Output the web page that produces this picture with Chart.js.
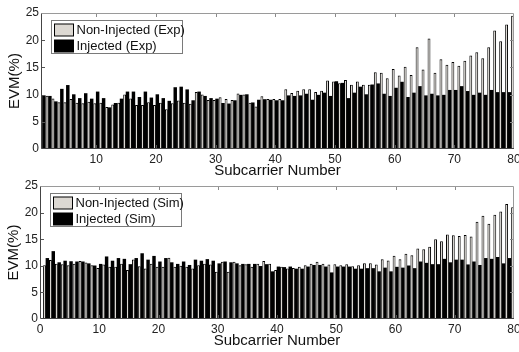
<!DOCTYPE html>
<html><head><meta charset="utf-8">
<script src="https://cdn.jsdelivr.net/npm/chart.js@4.4.0/dist/chart.umd.min.js"></script>
<style>
html,body{margin:0;padding:0;background:#fff;width:519px;height:352px;overflow:hidden}
canvas{position:absolute;left:0}
#c1{top:0}
#c2{top:180px}
</style></head><body>
<canvas id="c1" width="519" height="180"></canvas>
<canvas id="c2" width="519" height="172"></canvas>
<script>
// ---------- DATA ----------
const subcarriers = [1,2,3,4,5,6,7,8,9,10,11,12,13,14,15,16,17,18,19,20,21,22,23,24,25,26,27,28,29,30,31,32,33,34,35,36,37,38,39,40,41,42,43,44,45,46,47,48,49,50,51,52,53,54,55,56,57,58,59,60,61,62,63,64,65,66,67,68,69,70,71,72,73,74,75,76,77,78,79,80];

const nonInjectedExp = [9.9,9.8,9.3,8.6,8.6,9.2,8.5,8.4,8.7,8.4,
  8.5,7.7,8.2,8.5,10.0,9.3,8.1,8.1,8.6,8.1,
  8.5,7.3,8.4,8.9,8.5,8.3,10.5,10.0,9.0,9.0,
  9.5,9.2,9.0,10.2,10.0,8.5,7.8,9.7,9.2,9.2,
  9.2,11.0,10.3,10.7,11.0,11.0,10.5,10.7,12.6,12.4,
  12.1,12.7,11.8,12.4,11.8,11.8,14.1,14.0,13.0,14.7,
  13.5,15.1,13.6,18.7,14.6,20.3,14.0,16.5,15.5,16.0,
  15.3,16.2,17.2,17.8,16.7,18.7,21.8,19.8,22.9,24.5];

const injectedExp = [9.8,9.7,8.7,11.0,11.7,10.0,9.3,10.2,9.2,10.5,
  9.3,7.6,8.4,9.2,10.5,10.5,9.5,10.5,9.4,10.0,
  9.3,8.8,11.3,11.4,10.9,8.9,10.5,9.7,9.3,9.2,
  8.4,8.3,8.9,9.9,10.0,8.5,9.0,9.1,9.0,8.9,
  8.9,9.8,9.7,9.8,10.1,9.0,9.9,10.3,9.7,12.4,
  12.1,9.3,10.3,11.4,10.0,11.8,12.0,10.1,9.7,11.2,
  12.3,9.5,10.3,11.5,9.8,10.1,9.8,9.9,10.8,10.8,
  11.5,10.6,9.9,10.3,9.9,10.8,10.4,10.4,10.4,10.7];

const nonInjectedSim = [10.1,11.1,10.4,10.3,10.1,10.4,10.9,10.6,10.1,9.6,
  10.25,9.8,9.8,10.4,9.2,11.2,9.9,9.5,10.4,9.8,
  9.8,11.5,9.8,10.0,9.8,9.5,10.1,10.4,10.25,8.9,
  10.75,8.9,10.75,10.1,10.3,9.8,10.4,10.9,10.4,9.2,
  9.8,9.5,9.6,9.8,10.1,10.4,10.75,10.4,10.25,10.3,
  10.1,10.3,9.9,10.1,10.5,10.5,10.25,11.25,11.0,11.9,
  11.25,12.25,12.0,13.25,13.1,13.6,15.0,14.6,15.9,15.75,
  15.6,15.8,15.5,18.3,19.4,17.9,19.6,20.2,21.6,21.0];

const injectedSim = [11.4,12.7,10.6,10.9,10.8,10.75,10.75,10.4,10.0,10.3,
  11.7,10.9,11.4,11.25,10.25,11.4,12.3,11.1,11.8,10.75,
  11.4,10.6,10.3,10.75,10.1,11.1,10.9,11.2,10.9,10.4,
  10.75,10.6,10.4,10.3,10.3,10.3,9.9,10.25,8.9,9.8,
  9.7,9.8,9.4,9.4,9.8,10.1,10.1,9.8,8.7,9.8,
  9.8,9.8,9.4,9.4,9.5,9.5,8.9,9.6,8.9,9.75,
  9.6,10.0,9.5,10.75,10.5,10.25,10.25,11.25,10.6,11.1,
  11.1,10.2,10.75,10.1,11.4,11.25,11.6,10.4,11.4,11.25];

const xTicksTop = [10,20,30,40,50,60,70,80];
const xTicksBottom = [0,10,20,30,40,50,60,70,80];
const yTicks = [0,5,10,15,20,25];

// ---------- STYLE ----------
const FONT = "'Liberation Sans', Arial, Helvetica, sans-serif";
const GRAY = 'rgb(220,216,210)';

const framePlugin = {
  id: 'frame',
  afterDatasetsDraw(chart) {
    const {ctx, chartArea: a, scales: {x, y}} = chart;
    ctx.save();
    ctx.lineWidth = 1;
    const line = (x1, y1, x2, y2, c) => {
      ctx.strokeStyle = c; ctx.beginPath(); ctx.moveTo(x1, y1); ctx.lineTo(x2, y2); ctx.stroke();
    };
    x.ticks.forEach(t => {
      const px = Math.round(x.getPixelForValue(t.value)) + 0.5;
      if (px < a.left + 2 || px > a.right - 2) return;
      line(px, a.top, px, a.top + 4, '#8a8a8a');
      line(px, a.bottom, px, a.bottom - 4, '#555');
    });
    y.ticks.forEach(t => {
      const py = Math.round(y.getPixelForValue(t.value)) + 0.5;
      if (py < a.top + 2 || py > a.bottom - 2) return;
      line(a.left, py, a.left + 4, py, '#555');
      line(a.right, py, a.right - 4, py, '#8a8a8a');
    });
    const L = Math.round(a.left) + 0.5, R = Math.round(a.right) - 0.5;
    const T = Math.round(a.top) + 0.5, B = Math.round(a.bottom) - 0.5;
    line(L, T, R, T, '#9a9a9a');
    line(R, T, R, B, '#9a9a9a');
    line(L, T, L, B, '#444');
    line(L, B, R, B, '#444');
    ctx.restore();
  },
  afterDraw(chart) {
    const {ctx, chartArea: a} = chart;
    const bx = Math.round(a.left) + 10.5, by = Math.round(a.top) + 7.5;
    ctx.save();
    ctx.fillStyle = '#fff';
    ctx.fillRect(bx, by, 131, 33);
    ctx.strokeStyle = '#7a7a7a';
    ctx.lineWidth = 1;
    ctx.strokeRect(bx, by, 131, 33);
    chart.data.datasets.forEach((ds, i) => {
      const sy = by + 3.5 + i * 16;
      ctx.fillStyle = ds.backgroundColor;
      ctx.fillRect(bx + 3, sy, 19, 12);
      ctx.strokeStyle = '#000';
      ctx.strokeRect(bx + 3, sy, 19, 12);
      ctx.fillStyle = '#111';
      ctx.font = '13px ' + FONT;
      ctx.textBaseline = 'middle';
      ctx.textAlign = 'left';
      ctx.fillText(ds.label, bx + 25, sy + 6.5);
    });
    ctx.restore();
  }
};

function makeChart(id, labelA, valsA, labelB, valsB, xmin, xTicks, lay) {
  const pts = vals => subcarriers.map((s, i) => ({x: s, y: vals[i]}));
  return new Chart(document.getElementById(id), {
    type: 'bar',
    data: {
      datasets: [
        {label: labelA, data: pts(valsA), backgroundColor: GRAY, borderColor: '#000', borderWidth: 1, clip: 0,
         inflateAmount: 0, categoryPercentage: 0.96, barPercentage: 1.0},
        {label: labelB, data: pts(valsB), backgroundColor: '#000', borderColor: '#000', borderWidth: 0, clip: 0,
         inflateAmount: 0.3, categoryPercentage: 0.96, barPercentage: 1.0}
      ]
    },
    options: {
      responsive: false,
      animation: false,
      devicePixelRatio: 1,
      layout: {padding: {top: lay.top, right: 5, left: 0, bottom: 0}},
      plugins: {legend: {display: false}, tooltip: {enabled: false}},
      scales: {
        x: {
          type: 'linear', min: xmin, max: 80, offset: false,
          grid: {display: false, drawTicks: false, offset: false},
          border: {display: false},
          afterBuildTicks: s => { s.ticks = xTicks.map(v => ({value: v})); },
          afterFit: s => { s.height = lay.xh; s.paddingLeft = 0; s.paddingRight = 0; },
          ticks: {autoSkip: false, maxRotation: 0, padding: 3, color: '#222', font: {family: FONT, size: 12}},
          title: {display: true, text: 'Subcarrier Number', color: '#111', font: {family: FONT, size: 15}, padding: {top: 0, bottom: lay.tpb}}
        },
        y: {
          min: 0, max: 25,
          grid: {display: false, drawTicks: false},
          border: {display: false},
          afterBuildTicks: s => { s.ticks = yTicks.map(v => ({value: v})); },
          afterFit: s => { s.width = lay.left; s.paddingTop = 0; s.paddingBottom = 0; },
          ticks: {padding: 2, color: '#222', font: {family: FONT, size: 12}},
          title: {display: true, text: 'EVM(%)', color: '#111', font: {family: FONT, size: 15}, padding: {top: lay.ytp, bottom: 0}}
        }
      }
    },
    plugins: [framePlugin]
  });
}

makeChart('c1', 'Non-Injected (Exp)', nonInjectedExp, 'Injected (Exp)', injectedExp, 0.75, xTicksTop,
  {top: 13, xh: 31, left: 41, tpb: 0, ytp: 6});
makeChart('c2', 'Non-Injected (Sim)', nonInjectedSim, 'Injected (Sim)', injectedSim, 0, xTicksBottom,
  {top: 6, xh: 33, left: 40, tpb: 2, ytp: 5});
</script>
</body></html>
